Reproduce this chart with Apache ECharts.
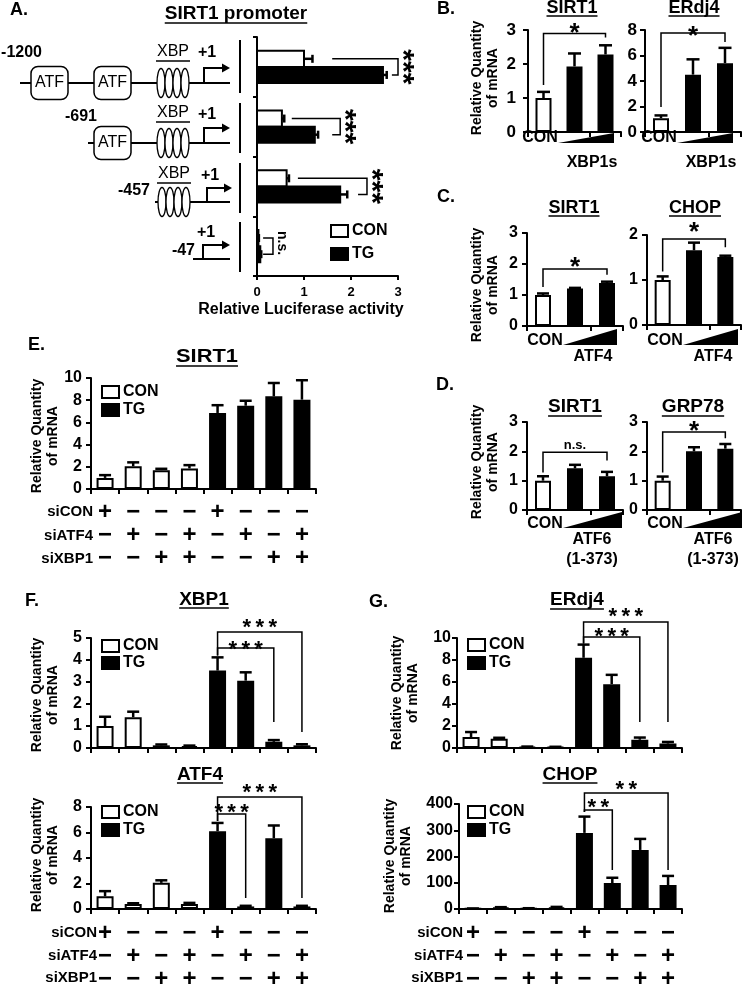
<!DOCTYPE html>
<html><head><meta charset="utf-8">
<script src="https://cdn.jsdelivr.net/npm/echarts@6/dist/echarts.min.js"></script>
<style>html,body{margin:0;padding:0;background:#fff}#c{width:745px;height:986px}</style>
</head><body><div id="c"></div>
<script>
// ---------------- DATA ----------------
const promoterCats = ['-1200', '-691', '-457', '-47'];
const lucCON = [1.0, 0.53, 0.63, 0.03];
const lucCONerr = [0.18, 0.05, 0.05, 0.01];
const lucTG = [2.68, 1.23, 1.77, 0.07];
const lucTGerr = [0.08, 0.07, 0.15, 0.02];

const doseCats = ['CON', 'low', 'high'];
const doseGroup = ['CON', 'dose', 'dose'];
const bSIRT1 = [1.0, 1.93, 2.28];  const bSIRT1err = [0.18, 0.38, 0.27];
const bERdj4 = [1.08, 4.5, 5.4];   const bERdj4err = [0.22, 1.2, 1.2];
const cSIRT1 = [1.0, 1.21, 1.39];  const cSIRT1err = [0.05, 0.02, 0.04];
const cCHOP = [1.0, 1.66, 1.51];   const cCHOPerr = [0.08, 0.17, 0.03];
const dSIRT1 = [1.0, 1.42, 1.15];  const dSIRT1err = [0.15, 0.12, 0.15];
const dGRP78 = [1.0, 2.0, 2.09];   const dGRP78err = [0.14, 0.14, 0.16];

const siCON  = ['+', '−', '−', '−', '+', '−', '−', '−'];
const siATF4 = ['−', '+', '−', '+', '−', '+', '−', '+'];
const siXBP1 = ['−', '−', '+', '+', '−', '−', '+', '+'];
const treatment = ['CON', 'CON', 'CON', 'CON', 'TG', 'TG', 'TG', 'TG'];
const siCats = ['1', '2', '3', '4', '5', '6', '7', '8'];
const eSIRT1 = [1.0, 2.05, 1.7, 1.85, 6.85, 7.5, 8.35, 8.05];
const eSIRT1err = [0.25, 0.35, 0.12, 0.3, 0.7, 0.45, 1.2, 1.75];
const fXBP1 = [1.0, 1.4, 0.12, 0.08, 3.52, 3.06, 0.28, 0.12];
const fXBP1err = [0.42, 0.25, 0.04, 0.03, 0.6, 0.38, 0.08, 0.05];
const fATF4 = [1.0, 0.4, 2.05, 0.4, 6.1, 0.2, 5.55, 0.2];
const fATF4err = [0.4, 0.05, 0.2, 0.08, 0.65, 0.05, 1.0, 0.05];
const gERdj4 = [1.0, 0.85, 0.1, 0.08, 8.2, 5.8, 0.75, 0.4];
const gERdj4err = [0.45, 0.08, 0.03, 0.03, 1.2, 0.85, 0.2, 0.15];
const gCHOP = [1, 5, 2, 6, 290, 99, 225, 91];
const gCHOPerr = [1, 2, 1, 2, 62, 20, 42, 35];

// ---------------- HELPERS ----------------
const FF = '"Liberation Sans", Arial, sans-serif';
const AX = {color: '#000', width: 2};
const fnt = (s, w) => (w || 'bold') + ' ' + s + 'px ' + FF;
const mctx = document.createElement('canvas').getContext('2d');
const textW = (t, s) => { mctx.font = fnt(s); return mctx.measureText(t).width; };
const S3 = '*\u2009*\u2009*', S2 = '*\u2009*';

const grids = [], xAxes = [], yAxes = [], series = [], graphics = [];

function T(text, x, y, size, o) {
  o = o || {};
  const al = o.align || 'center', va = o.va || 'middle';
  return {type: 'text', x: x, y: y, rotation: o.rot || 0, scaleX: o.sx || 1, z: 10,
    style: {text: text, fill: '#000', font: fnt(size, o.w), textAlign: al, align: al,
      textVerticalAlign: va, verticalAlign: va, lineHeight: o.lh || size * 1.2}};
}
function L(x1, y1, x2, y2, w) {
  return {type: 'line', z: 5, shape: {x1, y1, x2, y2}, style: {stroke: '#000', lineWidth: w || 2}};
}
function title(text, cx, cy, size, ulY, sx) {
  sx = sx || 1;
  graphics.push(T(text, cx, cy, size, {sx: sx}));
  const w = textW(text, size) * sx;
  graphics.push(L(cx - w / 2, ulY, cx + w / 2, ulY, 1.6));
}
function yName(cx, cy) {
  graphics.push(T('Relative Quantity\nof mRNA', cx, cy, 14, {rot: Math.PI / 2, lh: 16}));
}
function legendBoxes(x, yCon, yTg) {
  graphics.push({type: 'rect', z: 5, shape: {x: x, y: yCon - 6, width: 17, height: 12}, style: {fill: '#fff', stroke: '#000', lineWidth: 2}});
  graphics.push({type: 'rect', z: 5, shape: {x: x, y: yTg - 6, width: 17, height: 12}, style: {fill: '#000', stroke: '#000', lineWidth: 2}});
  graphics.push(T('CON', x + 21, yCon, 16, {align: 'left'}));
  graphics.push(T('TG', x + 21, yTg, 16, {align: 'left'}));
}

function errorSeries(gi, vals, errs, capW) {
  return {type: 'custom', xAxisIndex: gi, yAxisIndex: gi, z: 1, silent: true,
    data: vals.map((v, i) => [i, v, errs[i]]),
    renderItem(params, api) {
      const i = api.value(0), v = api.value(1), e = api.value(2);
      const p0 = api.coord([i, v]), p1 = api.coord([i, v + e]);
      return {type: 'group', children: [
        {type: 'line', shape: {x1: p0[0], y1: p0[1], x2: p1[0], y2: p1[1]}, style: {stroke: '#000', lineWidth: 2.5}},
        {type: 'line', shape: {x1: p1[0] - capW / 2, y1: p1[1], x2: p1[0] + capW / 2, y2: p1[1]}, style: {stroke: '#000', lineWidth: 2.5}}
      ]};
    }};
}
function bracketSeries(gi, list, fs) {
  return {type: 'custom', xAxisIndex: gi, yAxisIndex: gi, z: 6, silent: true, clip: false,
    data: list.map((b, k) => [b.x1, b.yTop, k]),
    renderItem(params, api) {
      const b = list[api.value(2)];
      const pL = api.coord([b.x1, b.yL]), pTL = api.coord([b.x1, b.yTop]);
      const pTR = api.coord([b.x2, b.yTop]), pR = api.coord([b.x2, b.yR]);
      const star = b.label.indexOf('*') >= 0;
      const ty = pTL[1] + b.dy + (star ? fs * 0.23 : 0);
      return {type: 'group', children: [
        {type: 'polyline', shape: {points: [pL, pTL, pTR, pR]}, style: {stroke: '#000', lineWidth: 1.5, fill: null}},
        {type: 'text', x: (pTL[0] + pTR[0]) / 2, y: ty,
          style: {text: b.label, fill: '#000', font: fnt(star ? fs : 13), align: 'center', verticalAlign: 'middle', textAlign: 'center', textVerticalAlign: 'middle'}}
      ]};
    }};
}

function addGrid(l, t, w, h) {
  grids.push({left: l, top: t, width: w, height: h, containLabel: false, outerBoundsMode: 'none'});
  return grids.length - 1;
}

function vChart(box, cats, vals, errs, fills, yMax, yInt, o) {
  const gi = addGrid(box[0], box[1], box[2], box[3]);
  xAxes.push({gridIndex: gi, type: 'category', data: cats,
    axisLine: {show: true, lineStyle: AX}, axisTick: {show: true, length: 5, lineStyle: AX},
    axisLabel: o.xLabel || {show: false}, splitLine: {show: false}});
  yAxes.push({gridIndex: gi, type: 'value', min: 0, max: yMax, interval: yInt,
    axisLine: {show: true, lineStyle: AX}, axisTick: {show: true, length: 5, lineStyle: AX},
    axisLabel: {fontSize: o.yFont || 16, fontWeight: 'bold', color: '#000', fontFamily: FF, margin: o.yMargin || 9},
    splitLine: {show: false}});
  series.push({type: 'bar', xAxisIndex: gi, yAxisIndex: gi, z: 2, silent: true, barWidth: o.barWidth || 16,
    data: vals.map((v, i) => ({value: v, itemStyle: {color: fills[i]}})),
    itemStyle: {borderColor: '#000', borderWidth: 2}});
  series.push(errorSeries(gi, vals, errs, o.capW || 12));
  if (o.brackets) series.push(bracketSeries(gi, o.brackets, o.starFs || 22));
  return gi;
}

const doseFill = doseGroup.map(g => g === 'CON' ? '#fff' : '#000');
const siFill = treatment.map(g => g === 'CON' ? '#fff' : '#000');
const siLabel = (margin) => ({show: true, interval: 0, fontSize: 24, fontWeight: 'bold', color: '#000', fontFamily: FF,
  lineHeight: 23, margin: margin, formatter: (v, i) => [siCON[i], siATF4[i], siXBP1[i]].join('\n')});
function siRowNames(xr, y0, dy) {
  ['siCON', 'siATF4', 'siXBP1'].forEach((t, k) => graphics.push(T(t, xr, y0 + k * dy, 15, {align: 'right'})));
}

// ---------------- PANEL A ----------------
addGrid(257, 37, 141, 239);
xAxes.push({gridIndex: 0, type: 'value', min: 0, max: 3, interval: 1,
  axisLine: {show: true, lineStyle: AX}, axisTick: {show: true, length: 4, lineStyle: AX},
  axisLabel: {fontSize: 13, fontWeight: 'bold', color: '#000', fontFamily: FF, margin: 10}, splitLine: {show: false}});
yAxes.push({gridIndex: 0, type: 'category', inverse: true, data: promoterCats,
  axisLine: {show: true, lineStyle: AX}, axisTick: {show: true, length: 4, lineStyle: AX}, axisLabel: {show: false}});
function hBarSeries(vals, errs, side, fill) {
  return {type: 'custom', xAxisIndex: 0, yAxisIndex: 0, z: 3, silent: true,
    data: vals.map((v, i) => [v, i, errs[i]]),
    renderItem(params, api) {
      const v = api.value(0), i = api.value(1), e = api.value(2);
      const band = api.size([0, 1])[1], h = band * 0.27;
      const base = api.coord([0, i]), end = api.coord([v, i]), eend = api.coord([v + e, i]);
      const yc = base[1] + side * h / 2;
      return {type: 'group', children: [
        {type: 'line', shape: {x1: end[0], y1: yc, x2: eend[0], y2: yc}, style: {stroke: '#000', lineWidth: 2.5}},
        {type: 'line', shape: {x1: eend[0], y1: yc - 4, x2: eend[0], y2: yc + 4}, style: {stroke: '#000', lineWidth: 2.5}},
        {type: 'rect', shape: {x: base[0], y: yc - h / 2, width: end[0] - base[0], height: h}, style: {fill: fill, stroke: '#000', lineWidth: 2}}
      ]};
    }};
}
series.push(hBarSeries(lucCON, lucCONerr, -1, '#fff'));
series.push(hBarSeries(lucTG, lucTGerr, 1, '#000'));
const aBr = [
  {right: 3.0, top: 1.6, bottom: 2.87, label: '***'},
  {right: 1.77, top: 0.74, bottom: 1.6, label: '***'},
  {right: 2.34, top: 0.87, bottom: 2.15, label: '***'},
  {right: 0.34, top: 0.13, bottom: 0.13, label: 'n.s.'}
];
series.push({type: 'custom', xAxisIndex: 0, yAxisIndex: 0, z: 6, silent: true, clip: false,
  data: aBr.map((b, i) => [b.right, i]),
  renderItem(params, api) {
    const i = api.value(1), b = aBr[i];
    const band = api.size([0, 1])[1], off = band * 0.135;
    const cy = api.coord([0, i])[1];
    const xr = api.coord([b.right, i])[0], xt = api.coord([b.top, i])[0], xb = api.coord([b.bottom, i])[0];
    const star = b.label !== 'n.s.';
    const fs = star ? 30 : 14;
    return {type: 'group', children: [
      {type: 'polyline', shape: {points: [[xt, cy - off], [xr, cy - off], [xr, cy + off], [xb, cy + off]]}, style: {stroke: '#000', lineWidth: 1.5, fill: null}},
      {type: 'text', x: xr + (star ? 11 - fs * 0.23 : 9), y: cy - (star ? 0 : 3), rotation: -Math.PI / 2,
        style: {text: b.label, fill: '#000', font: fnt(fs), align: 'center', verticalAlign: 'middle', textAlign: 'center', textVerticalAlign: 'middle'}}
    ]};
  }});
graphics.push(T('A.', 10, 10, 18, {align: 'left'}));
title('SIRT1 promoter', 236, 14, 19, 23);
graphics.push(T('Relative Luciferase activity', 301, 310, 16));
legendBoxes(331, 231, 254);

// promoter diagram (illustration)
const rows = [
  {y: 83, start: 20, lx: 42, ly: 53, atf: [31, 94], xbp: 157, xty: 52, uly: 61, px: 207, py: 53, ax: 204, at: 68, ae: 230},
  {y: 143, start: 88, lx: 97, ly: 117, atf: [94], xbp: 157, xty: 113, uly: 122, px: 207, py: 115, ax: 204, at: 128, ae: 230},
  {y: 202, start: 155, lx: 150, ly: 191, atf: [], xbp: 158, xty: 174, uly: 183, px: 210, py: 176, ax: 207, at: 188, ae: 232},
  {y: 259, start: 193, lx: 195, ly: 251, atf: [], xbp: null, px: 206, py: 233, ax: 203, at: 245, ae: 230}
];
rows.forEach((r, k) => {
  graphics.push(L(r.start, r.y, 230, r.y, 2));
  r.atf.forEach(x => {
    graphics.push({type: 'rect', z: 6, shape: {x: x, y: r.y - 16.5, width: 37, height: 33, r: 7}, style: {fill: '#fff', stroke: '#000', lineWidth: 1.5}});
    graphics.push(T('ATF', x + 18.5, r.y, 16, {w: 'normal'}));
  });
  if (r.xbp) {
    for (let j = 0; j < 4; j++) graphics.push({type: 'ellipse', z: 6, shape: {cx: r.xbp + 4 + j * 8, cy: r.y, rx: 4, ry: 14.5}, style: {fill: '#fff', stroke: '#000', lineWidth: 1.3}});
    graphics.push(T('XBP', r.xbp + 16, r.xty, 16, {w: 'normal'}));
    graphics.push(L(r.xbp - 1, r.uly, r.xbp + 33, r.uly, 1.5));
  }
  graphics.push(T('+1', r.px, r.py, 16));
  graphics.push({type: 'polyline', z: 6, shape: {points: [[r.ax, r.y], [r.ax, r.at], [r.ae - 6, r.at]]}, style: {stroke: '#000', lineWidth: 2, fill: null}});
  graphics.push({type: 'polygon', z: 6, shape: {points: [[r.ae - 8, r.at - 4.5], [r.ae, r.at], [r.ae - 8, r.at + 4.5]]}, style: {fill: '#000'}});
  graphics.push(T(promoterCats[k], r.lx, r.ly, 16, {align: 'right'}));
});
[[40, 93], [103, 153], [163, 213], [222, 272]].forEach(s => graphics.push(L(240, s[0], 240, s[1], 2)));

// ---------------- PANEL B ----------------
vChart([528, 30, 93, 102], doseCats, bSIRT1, bSIRT1err, doseFill, 3, 1,
  {yMargin: 12, yFont: 17, capW: 13, brackets: [{x1: 0, x2: 2, yTop: 2.9, yL: 1.38, yR: 2.78, label: '*', dy: -6}], starFs: 26});
vChart([645, 30, 96, 102], doseCats, bERdj4, bERdj4err, doseFill, 8, 2,
  {yMargin: 8, yFont: 17, capW: 13, brackets: [{x1: 0, x2: 2, yTop: 7.76, yL: 1.96, yR: 7.06, label: '*', dy: -2}], starFs: 26});
graphics.push(T('B.', 437, 9, 18, {align: 'left'}));
title('SIRT1', 572, 8, 18, 16);
title('ERdj4', 694, 8, 18, 16);
yName(485, 78);
function wedge(conX, conY, tip, right, bot, top, names, nameX, nameY) {
  graphics.push(T(doseCats[0], conX, conY, 16));
  graphics.push({type: 'polygon', z: 5, shape: {points: [[tip, bot], [right, bot], [right, top]]}, style: {fill: '#000'}});
  names.forEach((n, k) => graphics.push(T(n, nameX, nameY + k * 20, 16)));
}
wedge(540, 138, 558, 614, 143, 133, ['XBP1s'], 592, 163);
wedge(659, 138, 677, 733, 143, 133, ['XBP1s'], 711, 163);

// ---------------- PANEL C ----------------
vChart([527, 233, 96, 93], doseCats, cSIRT1, cSIRT1err, doseFill, 3, 1,
  {capW: 12, brackets: [{x1: 0, x2: 2, yTop: 1.84, yL: 1.26, yR: 1.65, label: '*', dy: -7}], starFs: 26});
vChart([647, 235, 94, 90], doseCats, cCHOP, cCHOPerr, doseFill, 2, 1,
  {capW: 12, brackets: [{x1: 0, x2: 2, yTop: 1.91, yL: 1.19, yR: 1.73, label: '*', dy: -12}], starFs: 26});
graphics.push(T('C.', 437, 197, 18, {align: 'left'}));
title('SIRT1', 574, 208, 18, 216);
title('CHOP', 695, 208, 18, 216);
yName(485, 285);
wedge(545, 341, 563, 617, 345, 329, ['ATF4'], 593, 357);
wedge(665, 341, 683, 738, 345, 329, ['ATF4'], 713, 357);

// ---------------- PANEL D ----------------
vChart([527, 422, 96, 88], doseCats, dSIRT1, dSIRT1err, doseFill, 3, 1,
  {capW: 12, brackets: [{x1: 0, x2: 2, yTop: 1.97, yL: 1.28, yR: 1.69, label: 'n.s.', dy: -7}], starFs: 26});
vChart([647, 422, 94, 88], doseCats, dGRP78, dGRP78err, doseFill, 3, 1,
  {capW: 12, brackets: [{x1: 0, x2: 2, yTop: 2.66, yL: 1.28, yR: 2.45, label: '*', dy: -6}], starFs: 26});
graphics.push(T('D.', 436, 385, 18, {align: 'left'}));
title('SIRT1', 575, 407, 19, 416);
title('GRP78', 693, 407, 19, 416);
yName(485, 462);
wedge(545, 524, 563, 622, 528, 512, ['ATF6', '(1-373)'], 592, 540);
wedge(665, 524, 683, 742, 528, 512, ['ATF6', '(1-373)'], 713, 540);

// ---------------- PANEL E ----------------
vChart([91, 378, 225, 111], siCats, eSIRT1, eSIRT1err, siFill, 10, 2,
  {barWidth: 17, capW: 12, xLabel: siLabel(12)});
graphics.push(T('E.', 28, 345, 18, {align: 'left'}));
title('SIRT1', 207, 357, 19, 366, 1.15);
yName(45, 436);
legendBoxes(102, 392, 410);
siRowNames(93, 512, 23.5);

// ---------------- PANEL F ----------------
vChart([91, 638, 225, 110], siCats, fXBP1, fXBP1err, siFill, 5, 1,
  {barWidth: 17, capW: 12, starFs: 22, brackets: [
    {x1: 4, x2: 7, yTop: 5.27, yL: 4.2, yR: 0.73, label: S3, dy: -9},
    {x1: 4, x2: 6, yTop: 4.55, yL: 4.2, yR: 1.18, label: S3, dy: -3}]});
vChart([91, 807, 225, 102], siCats, fATF4, fATF4err, siFill, 8, 2,
  {barWidth: 17, capW: 12, starFs: 22, xLabel: siLabel(12.5), brackets: [
    {x1: 4, x2: 7, yTop: 8.78, yL: 6.9, yR: 0.86, label: S3, dy: -9},
    {x1: 4, x2: 5, yTop: 7.45, yL: 6.9, yR: 0.86, label: S3, dy: -6}]});
graphics.push(T('F.', 25, 601, 18, {align: 'left'}));
title('XBP1', 204, 600, 19, 608);
title('ATF4', 200, 775, 19, 783);
yName(45, 695);
yName(45, 855);
legendBoxes(102, 646, 663);
legendBoxes(102, 812, 830);
siRowNames(97, 933, 22.5);

// ---------------- PANEL G ----------------
vChart([457, 638, 225, 110], siCats, gERdj4, gERdj4err, siFill, 10, 2,
  {barWidth: 17, capW: 12, yMargin: 6, starFs: 22, brackets: [
    {x1: 4, x2: 7, yTop: 11.45, yL: 9.5, yR: 2.36, label: S3, dy: -10},
    {x1: 4, x2: 6, yTop: 10.1, yL: 9.5, yR: 2.36, label: S3, dy: -5}]});
vChart([459, 804, 223, 105], siCats, gCHOP, gCHOPerr, siFill, 400, 100,
  {barWidth: 17, capW: 12, yMargin: 6, starFs: 22, xLabel: siLabel(12.5), brackets: [
    {x1: 4, x2: 7, yTop: 442, yL: 370, yR: 149, label: S2, dy: -8},
    {x1: 4, x2: 5, yTop: 377, yL: 370, yR: 149, label: S2, dy: -7}]});
graphics.push(T('G.', 369, 602, 18, {align: 'left'}));
title('ERdj4', 577, 600, 19, 609);
title('CHOP', 570, 775, 19, 783);
yName(405, 693);
yName(398, 856);
legendBoxes(468, 645, 663);
legendBoxes(468, 812, 830);
siRowNames(463, 933, 22.5);

// ---------------- RENDER ----------------
const chart = echarts.init(document.getElementById('c'), null, {renderer: 'canvas'});
chart.setOption({
  animation: false,
  backgroundColor: '#fff',
  textStyle: {fontFamily: FF, color: '#000'},
  grid: grids, xAxis: xAxes, yAxis: yAxes, series: series,
  graphic: {elements: graphics}
});
</script></body></html>
